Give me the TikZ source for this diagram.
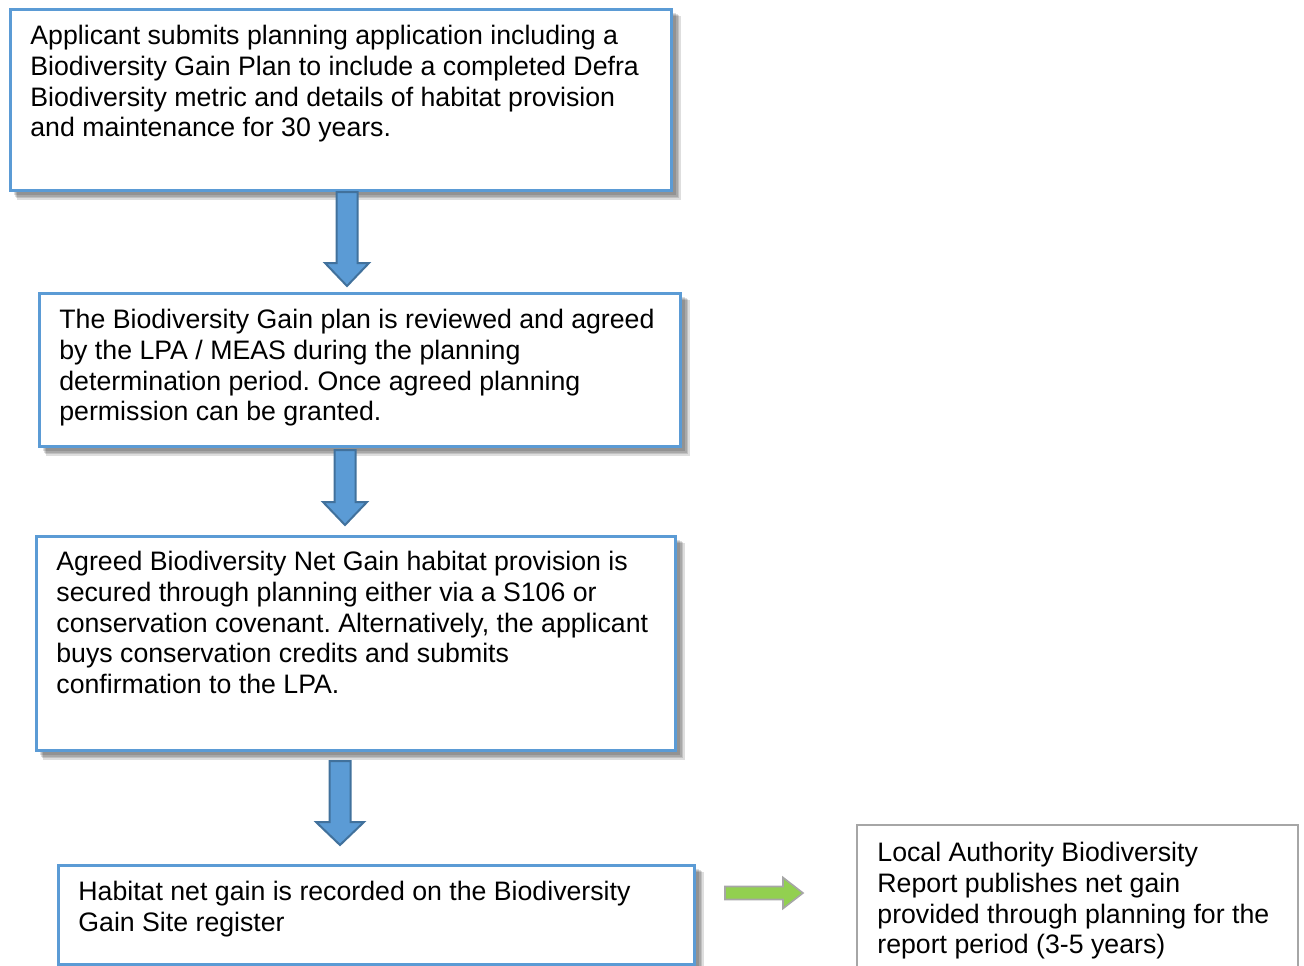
\documentclass[tikz,border=0pt]{standalone}
\usepackage{fontspec}
\setmainfont{Liberation Sans}
\usetikzlibrary{calc}
\definecolor{boxblue}{HTML}{5B9BD5}
\definecolor{arrowline}{HTML}{41719C}
\definecolor{greenfill}{HTML}{92D050}
\definecolor{greyline}{HTML}{A6A6A6}
\frenchspacing
\tikzset{
  flowbox/.style={draw=boxblue, line width=1.5pt, fill=white, rectangle, anchor=north west, inner sep=0pt},
  plainbox/.style={draw=greyline, line width=1pt, fill=white, rectangle, anchor=north west, inner sep=0pt},
  boxtext/.style={anchor=north west, inner sep=0pt, align=left, font=\fontsize{13.35}{15.35}\selectfont},
  blockarr/.style={fill=boxblue, draw=arrowline, line width=1pt, line join=miter},
  greenarr/.style={fill=greenfill, draw=gray!70, line width=0.8pt, line join=miter},
  shadowA/.style={fill=black, opacity=0.13},
}
\newcommand\shadowbox[1]{%
  \fill[shadowA] ($(#1.north west)+(8,8)$) rectangle ($(#1.south east)+(10,10)$);
  \fill[shadowA] ($(#1.north west)+(7,7)$) rectangle ($(#1.south east)+(8.5,8.5)$);
  \fill[shadowA] ($(#1.north west)+(6,6)$) rectangle ($(#1.south east)+(7,7)$);
  \fill[shadowA] ($(#1.north west)+(5,5)$) rectangle ($(#1.south east)+(5.5,5.5)$);
}
\newcommand\downblock[4]{% start, end, shaft half, head half
  \draw[blockarr] ($(#1)+(-#3,0)$) -- ($(#2)+(-#3,-23)$) -- ($(#2)+(-#4,-23)$) -- (#2)
    -- ($(#2)+(#4,-23)$) -- ($(#2)+(#3,-23)$) -- ($(#1)+(#3,0)$) -- cycle;
}
\begin{document}
\begin{tikzpicture}[x=0.5pt, y=-0.5pt]
\useasboundingbox (0,0) rectangle (1304,965);
\clip (0,0) rectangle (1304,965);

\path (9,8) coordinate (p1) (38,292) coordinate (p2) (35,535) coordinate (p3) (57,864) coordinate (p4) (856,824) coordinate (p5);

\node[minimum width=330.5pt, minimum height=90.5pt, anchor=north west, inner sep=0pt] (g1) at (p1) {};
\node[minimum width=320.5pt, minimum height=76.5pt, anchor=north west, inner sep=0pt] (g2) at (p2) {};
\node[minimum width=319.5pt, minimum height=107pt, anchor=north west, inner sep=0pt] (g3) at (p3) {};
\node[minimum width=318pt, minimum height=49.5pt, anchor=north west, inner sep=0pt] (g4) at (p4) {};

\shadowbox{g1}
\shadowbox{g2}
\shadowbox{g3}
\shadowbox{g4}

\node[flowbox, minimum width=330.5pt, minimum height=90.5pt] (b1) at (p1) {};
\node[flowbox, minimum width=320.5pt, minimum height=76.5pt] (b2) at (p2) {};
\node[flowbox, minimum width=319.5pt, minimum height=107pt] (b3) at (p3) {};
\node[flowbox, minimum width=318pt, minimum height=49.5pt] (b4) at (p4) {};
\node[plainbox, minimum width=220.5pt, minimum height=100pt] (b5) at (p5) {};

\node[boxtext] (t1) at (30,25) {Applicant submits planning application including a\\Biodiversity Gain Plan to include a completed Defra\\Biodiversity metric and details of habitat provision\\and maintenance for 30 years.};
\node[boxtext] (t2) at (59,309) {The Biodiversity Gain plan is reviewed and agreed\\by the LPA / MEAS during the planning\\determination period. Once agreed planning\\permission can be granted.};
\node[boxtext] (t3) at (56,551) {Agreed Biodiversity Net Gain habitat provision is\\secured through planning either via a S106 or\\conservation covenant. Alternatively, the applicant\\buys conservation credits and submits\\confirmation to the LPA.};
\node[boxtext] (t4) at (78,881) {Habitat net gain is recorded on the Biodiversity\\Gain Site register};
\node[boxtext] (t5) at (877,842) {Local Authority Biodiversity\\Report publishes net gain\\provided through planning for the\\report period (3-5 years)};

% block arrows between boxes
\coordinate (a1s) at (b1.south -| 347,0);
\coordinate (a1e) at (347,286);
\coordinate (a2s) at (345,450);
\coordinate (a2e) at (345,525);
\coordinate (a3s) at (340,761);
\coordinate (a3e) at (340,845);
\downblock{a1s}{a1e}{10.5}{22}
\downblock{a2s}{a2e}{10.5}{22}
\downblock{a3s}{a3e}{10.5}{24}

\coordinate (g1s) at (725,893);
\coordinate (g1e) at (803,893);
\draw[greenarr] ($(g1s)+(0,-6.5)$) -- ($(g1e)+(-20,-6.5)$) -- ($(g1e)+(-20,-15.5)$) -- (g1e)
  -- ($(g1e)+(-20,15.5)$) -- ($(g1e)+(-20,6.5)$) -- ($(g1s)+(0,6.5)$) -- cycle;
\end{tikzpicture}
\end{document}
